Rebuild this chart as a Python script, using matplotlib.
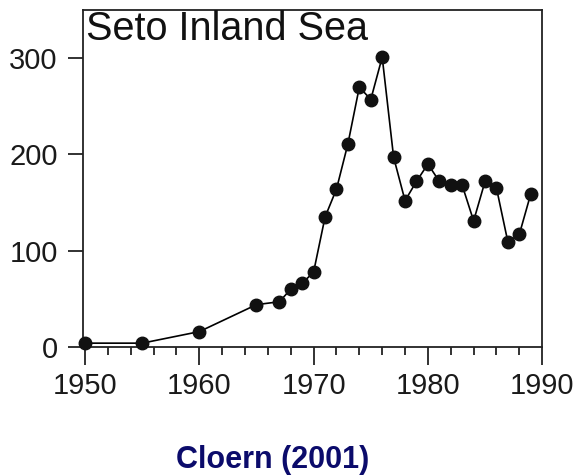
import matplotlib.pyplot as plt
from matplotlib.ticker import MultipleLocator

plt.rcParams['font.family'] = ['Liberation Sans', 'DejaVu Sans']

years = [1950, 1955, 1960, 1965, 1967, 1968, 1969, 1970, 1971, 1972, 1973,
         1974, 1975, 1976, 1977, 1978, 1979, 1980, 1981, 1982, 1983, 1984,
         1985, 1986, 1987, 1988, 1989]
values = [4, 4, 16, 44, 47, 60, 66, 78, 135, 164, 211,
          270, 257, 301, 197, 152, 172, 190, 172, 168, 168, 131,
          172, 165, 109, 117, 159]

title = 'Seto Inland Sea'
caption = 'Cloern (2001)'

fig = plt.figure(figsize=(5.83, 4.76), dpi=100)
ax = fig.add_axes([0.142, 0.271, 0.788, 0.708])

ax.plot(years, values, color='black', lw=1.2, marker='o', markersize=9,
        markerfacecolor='#111111', markeredgecolor='#111111', clip_on=False, zorder=3)

ax.set_xlim(1949.8, 1990)
ax.set_ylim(0, 350)
ax.set_xticks([1950, 1960, 1970, 1980, 1990])
ax.xaxis.set_minor_locator(MultipleLocator(2))
ax.set_yticks([0, 100, 200, 300])

ax.tick_params(axis='both', which='major', labelsize=21, width=1.3, color='#222222',
               labelcolor='#1a1a1a')
ax.tick_params(axis='y', which='major', length=11, pad=7)
ax.tick_params(axis='x', which='major', length=13, pad=5)
ax.tick_params(axis='x', which='minor', length=6, width=1.3, color='#222222')

for s in ax.spines.values():
    s.set_linewidth(1.3)
    s.set_color('#222222')

ax.text(0.008, 1.0, title, transform=ax.transAxes, fontsize=28.5, color='#111111',
        va='top', ha='left')

fig.text(0.467, 0.034, caption, fontsize=22, fontweight='bold', color='#0b0b6b',
         ha='center', va='center')

fig.savefig('out.png', dpi=100)
